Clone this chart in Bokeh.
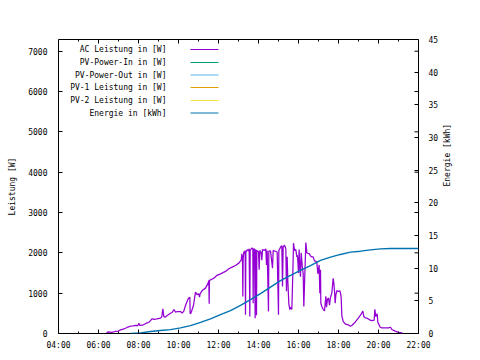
import math
from bokeh.plotting import figure
from bokeh.models import (LinearAxis, Range1d, FixedTicker, Label, BoxAnnotation)
from bokeh.embed import file_html
from bokeh.resources import INLINE

# ---------------- data ----------------
title_text = "Tagesdiagramm vom 2019-06-11"
x_tick_labels = ["04:00", "06:00", "08:00", "10:00", "12:00", "14:00",
                 "16:00", "18:00", "20:00", "22:00"]
left_ticks = [0, 1000, 2000, 3000, 4000, 5000, 6000, 7000]
right_ticks = [0, 5, 10, 15, 20, 25, 30, 35, 40, 45]

ac_time = ["06:24", "06:30", "06:40", "06:50", "07:00", "07:06", "07:14", "07:21", "07:28", "07:36",
           "07:44", "07:51", "07:58", "08:01", "08:04", "08:10", "08:15", "08:22", "08:31", "08:36",
           "08:41", "08:46", "08:55", "09:06", "09:10", "09:13", "09:16", "09:20", "09:26", "09:36",
           "09:41", "09:46", "09:51", "09:57", "10:06", "10:11", "10:16", "10:21", "10:29", "10:34",
           "10:35", "10:37", "10:40", "10:45", "10:51", "10:56", "11:01", "11:03", "11:05", "11:11",
           "11:21", "11:29", "11:31", "11:32", "11:33", "11:36", "11:46", "11:55", "12:06", "12:21",
           "12:31", "12:41", "12:51", "13:01", "13:05", "13:08", "13:10", "13:12", "13:13", "13:14",
           "13:16", "13:18", "13:20", "13:21", "13:22", "13:26", "13:30", "13:32", "13:34", "13:35",
           "13:40", "13:43", "13:44", "13:45", "13:48", "13:50", "13:51", "13:53", "13:54", "13:55",
           "14:00", "14:02", "14:04", "14:08", "14:10", "14:12", "14:18", "14:22", "14:24", "14:26",
           "14:30", "14:31", "14:36", "14:42", "14:44", "14:50", "14:56", "15:00", "15:01", "15:06",
           "15:10", "15:12", "15:14", "15:18", "15:22", "15:24", "15:26", "15:28", "15:31", "15:34",
           "15:36", "15:40", "15:43", "15:45", "15:48", "15:52", "15:55", "15:57", "16:00", "16:02",
           "16:04", "16:06", "16:08", "16:10", "16:12", "16:14", "16:16", "16:18", "16:22", "16:25",
           "16:28", "16:32", "16:36", "16:40", "16:44", "16:48", "16:52", "16:55", "16:58", "17:02",
           "17:04", "17:06", "17:07", "17:10", "17:14", "17:18", "17:22", "17:24", "17:27", "17:30",
           "17:33", "17:36", "17:40", "17:44", "17:46", "17:48", "17:50", "17:52", "17:55", "18:00",
           "18:04", "18:06", "18:08", "18:10", "18:14", "18:20", "18:29", "18:36", "18:40", "18:50",
           "19:00", "19:08", "19:13", "19:16", "19:20", "19:26", "19:33", "19:40", "19:47", "19:49",
           "19:52", "19:56", "19:58", "20:05", "20:10", "20:20", "20:30", "20:36", "20:40", "20:50",
           "21:00", "21:10", "21:12"]
ac_power = [20, 40, 30, 50, 60, 90, 110, 130, 160, 180,
            190, 200, 195, 255, 200, 210, 215, 250, 280, 320,
            365, 350, 360, 380, 420, 610, 420, 405, 445, 505,
            520, 595, 530, 545, 545, 505, 555, 695, 860, 900,
            490, 500, 570, 700, 1025, 965, 985, 900, 990, 1065,
            1125, 1250, 1315, 735, 1320, 1330, 1370, 1440, 1480, 1540,
            1605, 1645, 1685, 1745, 1790, 1810, 1975, 1830, 920, 1850,
            2030, 1980, 2060, 465, 2000, 2080, 2050, 2100, 420, 2060,
            2115, 2110, 750, 2080, 2100, 380, 2080, 2050, 450, 2060,
            2030, 1580, 2060, 2000, 1820, 2080, 2060, 2100, 1700, 2060,
            545, 2040, 2050, 1620, 2060, 2040, 2020, 465, 2050, 2140,
            2180, 1165, 2150, 2190, 2100, 1050, 1900, 1300, 735, 590,
            650, 600, 1495, 2240, 2060, 2080, 1900, 1940, 1500, 2080,
            1645, 1410, 2000, 1800, 1600, 1500, 670, 1200, 2255, 2000,
            1990, 1980, 1920, 1900, 1900, 1800, 1790, 1770, 1480, 1700,
            1000, 1580, 750, 670, 600, 560, 920, 650, 850, 880,
            700, 900, 1000, 1370, 1250, 1065, 750, 950, 1065, 1040,
            1060, 1000, 900, 445, 300, 240, 215, 180, 200, 280,
            390, 480, 555, 420, 390, 380, 340, 320, 330, 600,
            420, 490, 280, 155, 140, 140, 140, 155, 100, 60,
            30, 15, 0]

pv_in_time, pv_in_power = [], []
pv_out_time, pv_out_power = [], []
pv1_time, pv1_power = [], []
pv2_time, pv2_power = [], []

en_time = ["07:36", "08:06", "08:36", "09:06", "09:36", "10:06", "10:36", "11:06", "11:36", "12:06",
           "12:36", "13:06", "13:36", "14:06", "14:36", "15:06", "15:36", "16:06", "16:36", "17:06",
           "17:36", "18:06", "18:36", "19:06", "19:36", "20:06", "20:36", "22:00"]
en_kwh = [0.0, 0.1, 0.3, 0.45, 0.6, 0.87, 1.2, 1.7, 2.25, 2.9,
          3.5, 4.3, 5.2, 6.1, 7.1, 8.1, 8.9, 9.65, 10.4, 11.2,
          11.7, 12.1, 12.45, 12.6, 12.8, 12.95, 13.0, 13.0]

series_labels = ["AC Leistung in [W]", "PV-Power-In in [W]", "PV-Power-Out in [W]",
                 "PV-1 Leistung in [W]", "PV-2 Leistung in [W]", "Energie in [kWh]"]
series_colors = ["#9400d3", "#009e73", "#56b4e9", "#e69f00", "#f0e442", "#0072b2"]


def to_hours(ts):
    return [int(t[:2]) + int(t[3:]) / 60.0 for t in ts]


# ---------------- figure ----------------
FONT = "DejaVu Sans Mono"
FS = "8px"
X0, X1 = 4, 22
Y0, Y1 = 0, 7290

p = figure(width=480, height=360, x_range=Range1d(X0, X1), y_range=Range1d(Y0, Y1),
           output_backend="svg", toolbar_location=None,
           min_border_left=58, min_border_right=62, min_border_top=39, min_border_bottom=27,
           x_axis_location=None, y_axis_location=None)
p.extra_y_ranges = {"energy": Range1d(0, 45)}
p.grid.visible = False
p.outline_line_color = "black"
p.outline_line_width = 1
p.outline_line_alpha = 1
p.background_fill_color = "white"
p.border_fill_color = "white"

x_major = [4 + 2 * i for i in range(len(x_tick_labels))]
x_minor = [5 + 2 * i for i in range(len(x_tick_labels) - 1)]


def style(ax):
    ax.axis_line_color = None
    ax.major_tick_in = 4
    ax.major_tick_out = 0
    ax.minor_tick_in = 2
    ax.minor_tick_out = 0
    ax.major_tick_line_color = "black"
    ax.minor_tick_line_color = "black"
    ax.major_label_text_font = FONT
    ax.major_label_text_font_size = FS
    ax.major_label_text_color = "black"
    ax.axis_label_text_font = FONT
    ax.axis_label_text_font_size = FS
    ax.axis_label_text_font_style = "normal"
    ax.axis_label_text_color = "black"


# bottom axis
xb = LinearAxis(ticker=FixedTicker(ticks=x_major, minor_ticks=x_minor))
style(xb)
xb.major_label_overrides = {t: l for t, l in zip(x_major, x_tick_labels)}
xb.major_label_standoff = 7
p.add_layout(xb, "below")

# left axis
yl = LinearAxis(ticker=FixedTicker(ticks=left_ticks), axis_label="Leistung [W]")
style(yl)
yl.major_label_standoff = 11
yl.axis_label_standoff = 8
p.add_layout(yl, "left")

# right energy axis
yr = LinearAxis(ticker=FixedTicker(ticks=right_ticks), y_range_name="energy",
                axis_label="Energie [kWh]")
style(yr)
yr.major_label_standoff = 10
yr.axis_label_standoff = 6
yr.axis_label_orientation = math.pi / 2
p.add_layout(yr, "right")

# mirrored ticks (gnuplot style): top border and right border for left axis
p.ray(x=x_major, y=[Y1] * len(x_major), length=4, length_units="screen",
      angle=-math.pi / 2, line_color="black", line_width=1)
p.ray(x=x_minor, y=[Y1] * len(x_minor), length=2, length_units="screen",
      angle=-math.pi / 2, line_color="black", line_width=1)
p.ray(x=[X1] * len(left_ticks), y=left_ticks, length=4, length_units="screen",
      angle=math.pi, line_color="black", line_width=1)

# ---------------- series ----------------
p.line(to_hours(ac_time), ac_power, line_color=series_colors[0], line_width=1.25)
p.line(to_hours(pv_in_time), pv_in_power, line_color=series_colors[1], line_width=1)
p.line(to_hours(pv_out_time), pv_out_power, line_color=series_colors[2], line_width=1)
p.line(to_hours(pv1_time), pv1_power, line_color=series_colors[3], line_width=1)
p.line(to_hours(pv2_time), pv2_power, line_color=series_colors[4], line_width=1)
p.line(to_hours(en_time), en_kwh, line_color=series_colors[5], line_width=1.4,
       y_range_name="energy")

# ---------------- title & legend (screen units, relative to plot frame) ----------------
p.add_layout(Label(x=166, y=315, x_units="screen", y_units="screen", text=title_text,
                   text_font=FONT, text_font_size=FS, text_align="center",
                   text_baseline="middle", text_color="black"))

row_y = [284, 271, 258.5, 246, 233, 220.5]
for lab, col, ry in zip(series_labels, series_colors, row_y):
    p.add_layout(Label(x=108, y=ry, x_units="screen", y_units="screen", text=lab,
                       text_font=FONT, text_font_size=FS, text_align="right",
                       text_baseline="middle", text_color="black"))
    p.add_layout(BoxAnnotation(left=132, right=160, top=ry + 0.6, bottom=ry - 0.6,
                               left_units="screen", right_units="screen",
                               top_units="screen", bottom_units="screen",
                               fill_color=col, fill_alpha=1, line_color=None))

open("out.html", "w").write(file_html(p, INLINE))
